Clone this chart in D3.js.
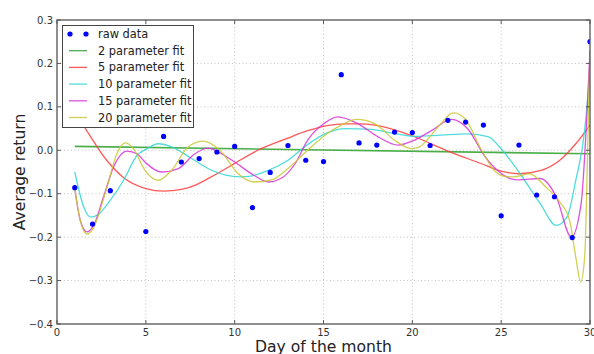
<!DOCTYPE html>
<html>
<head>
<meta charset="utf-8">
<script src="https://cdn.jsdelivr.net/npm/d3@7"></script>
<style>
  body { margin: 0; background: #fff; }
  svg { display: block; font-family: "DejaVu Sans", sans-serif; }
</style>
</head>
<body>
<svg id="chart" width="594" height="354"></svg>
<script>
// raw points (day 4 is not visible in the picture)
const rawDays = [1, 2, 3, 5, 6, 7, 8, 9, 10, 11, 12, 13, 14, 15, 16, 17, 18, 19, 20, 21, 22, 23, 24, 25, 26, 27, 28, 29, 30]
const rawReturns = [-0.086, -0.170, -0.093, -0.187, 0.032, -0.027, -0.019, -0.004, 0.009, -0.132, -0.051, 0.011, -0.023, -0.026,
  0.174, 0.017, 0.012, 0.042, 0.041, 0.011, 0.069, 0.065, 0.058, -0.151, 0.012, -0.103, -0.107, -0.201, 0.250]

// fit curves, [day, value]
const fit2 = [[1, 0.009], [30, -0.008]]
const fit5 = [[1, 0.088], [1.6, 0.050], [2.8, -0.023], [3.75, -0.063], [5, -0.088], [6, -0.094], [7, -0.090], [7.8, -0.080],
  [8.6, -0.063], [9.3, -0.047], [10, -0.030], [11.3, 0.000], [13, 0.028], [14.1, 0.045], [15.2, 0.057], [16.2, 0.061],
  [17, 0.061], [17.9, 0.058], [19.4, 0.042], [20.2, 0.030], [22, -0.002], [23.9, -0.031], [25, -0.048], [26, -0.054],
  [27.2, -0.047], [28.3, -0.023], [29.2, 0.015], [30, 0.058]]
const fit10 = [[1, -0.050], [1.5, -0.130], [1.9, -0.154], [2.25, -0.150], [3, -0.115], [3.75, -0.069], [4.5, -0.012],
  [5, 0.002], [5.7, 0.015], [6.45, 0.008], [7.58, -0.019], [8.7, -0.046], [9.5, -0.057], [10.3, -0.061], [10.8, -0.060],
  [11.9, -0.046], [13, -0.023], [14.1, 0.013], [15.2, 0.040], [16.2, 0.050], [17.7, 0.048], [18.8, 0.040], [20.2, 0.032],
  [21.6, 0.035], [23.1, 0.038], [24.3, 0.031], [24.9, 0.008], [25.5, -0.022], [26, -0.050], [27.2, -0.123], [28.1, -0.173],
  [28.7, -0.154], [29.2, -0.069], [29.7, 0.046], [29.95, 0.161], [30, 0.19]]
const fit15 = [[1, -0.088], [1.31, -0.161], [1.69, -0.188], [2.06, -0.173], [2.62, -0.107], [3.19, -0.038], [3.94, -0.002],
  [4.5, -0.008], [4.95, -0.027], [5.89, -0.050], [6.83, -0.042], [7.76, -0.008], [8.51, 0.005], [9.26, -0.008], [10, -0.027],
  [11.1, -0.058], [11.9, -0.073], [12.6, -0.065], [13.4, -0.031], [14.1, 0.023], [15.07, 0.063], [15.8, 0.077], [16.95, 0.061],
  [18.07, 0.031], [19.2, 0.012], [20.1, 0.023], [21.1, 0.046], [22.2, 0.071], [23.1, 0.050], [24.1, -0.015], [24.9, -0.050],
  [25.5, -0.065], [26, -0.068], [27.2, -0.065], [28.1, -0.107], [28.95, -0.200], [29.5, -0.123], [29.83, 0.085], [30, 0.23]]
const fit20 = [[1, -0.088], [1.3, -0.160], [1.69, -0.193], [2.06, -0.178], [2.81, -0.085], [3.37, -0.008], [3.84, 0.017],
  [4.3, 0.004], [4.95, -0.046], [5.7, -0.069], [6.45, -0.046], [7.39, 0.008], [8.23, 0.021], [9.26, -0.004], [10.1, -0.050],
  [11.1, -0.073], [12.1, -0.068], [13, -0.042], [14.1, 0.000], [15.2, 0.038], [16, 0.058], [16.86, 0.071], [17.9, 0.061],
  [19, 0.023], [19.95, 0.004], [20.4, 0.008], [20.9, 0.027], [21.6, 0.061], [22.3, 0.086], [22.95, 0.073], [23.9, 0.000],
  [24.6, -0.046], [25.2, -0.060], [25.7, -0.061], [26.6, -0.054], [27.5, -0.084], [28.3, -0.119], [28.85, -0.161],
  [29.2, -0.246], [29.47, -0.303], [29.7, -0.246], [29.85, -0.031], [29.95, 0.154], [30, 0.22]]

const xTicks = [0, 5, 10, 15, 20, 25, 30]
const yTicks = [0.3, 0.2, 0.1, 0.0, -0.1, -0.2, -0.3, -0.4]
const seriesNames = ["2 parameter fit", "5 parameter fit", "10 parameter fit", "15 parameter fit", "20 parameter fit"]
const seriesColors = ["#2ca02c", "#ff3b3b", "#33d6d6", "#d633d6", "#c8c832"]

const svg = d3.select("#chart")
const mLeft = 57, mRight = 590, mTop = 20, mBottom = 324

const x = d3.scaleLinear().domain([0, 30]).range([mLeft, mRight])
const y = d3.scaleLinear().domain([-0.4, 0.3]).range([mBottom, mTop])

svg.append("defs").append("clipPath").attr("id", "plotclip")
  .append("rect").attr("x", mLeft).attr("y", mTop).attr("width", mRight - mLeft).attr("height", mBottom - mTop)

// grid
const grid = svg.append("g").attr("stroke", "#b5b5b5").attr("stroke-width", 0.8).attr("stroke-dasharray", "1,2.5")
grid.selectAll(".gx").data(xTicks.slice(1, -1)).join("line")
  .attr("x1", d => x(d)).attr("x2", d => x(d)).attr("y1", mTop).attr("y2", mBottom)
grid.selectAll(".gy").data(yTicks.slice(1, -1)).join("line")
  .attr("y1", d => y(d)).attr("y2", d => y(d)).attr("x1", mLeft).attr("x2", mRight)

const plot = svg.append("g").attr("clip-path", "url(#plotclip)")

const line = d3.line().x(d => x(d[0])).y(d => y(d[1])).curve(d3.curveMonotoneX)
const fits = [fit2, fit5, fit10, fit15, fit20]

plot.selectAll(".fit").data(fits).join("path")
  .attr("fill", "none")
  .attr("stroke", (d, i) => seriesColors[i])
  .attr("stroke-opacity", 0.85)
  .attr("stroke-width", (d, i) => i == 0 ? 1.6 : 1.3)
  .attr("d", line)

plot.selectAll(".pt").data(rawDays).join("circle")
  .attr("cx", d => x(d))
  .attr("cy", (d, i) => y(rawReturns[i]))
  .attr("r", 2.6)
  .attr("fill", "#0000ff")

// ticks on all sides, pointing inward
const ticks = svg.append("g").attr("stroke", "#333").attr("stroke-width", 0.8)
xTicks.forEach(t => {
  ticks.append("line").attr("x1", x(t)).attr("x2", x(t)).attr("y1", mBottom).attr("y2", mBottom - 4)
  ticks.append("line").attr("x1", x(t)).attr("x2", x(t)).attr("y1", mTop).attr("y2", mTop + 4)
})
yTicks.forEach(t => {
  ticks.append("line").attr("y1", y(t)).attr("y2", y(t)).attr("x1", mLeft).attr("x2", mLeft + 4)
  ticks.append("line").attr("y1", y(t)).attr("y2", y(t)).attr("x1", mRight).attr("x2", mRight - 4)
})

svg.append("rect")
  .attr("x", mLeft).attr("y", mTop).attr("width", mRight - mLeft).attr("height", mBottom - mTop)
  .attr("fill", "none").attr("stroke", "#555").attr("stroke-width", 1.3)

svg.append("g").selectAll("text").data(xTicks).join("text")
  .attr("x", d => x(d)).attr("y", mBottom + 12)
  .attr("text-anchor", "middle")
  .attr("font-size", "10px").attr("fill", "#333")
  .text(d => d)

svg.append("g").selectAll("text").data(yTicks).join("text")
  .attr("x", mLeft - 4).attr("y", d => y(d) + 3.5)
  .attr("text-anchor", "end")
  .attr("font-size", "10px").attr("fill", "#333")
  .text(d => d3.format(".1f")(d).replace("-", "\u2212"))

svg.append("text")
  .attr("x", (mLeft + mRight) / 2).attr("y", 352)
  .attr("text-anchor", "middle").attr("font-size", "15.6px").attr("fill", "#222")
  .text("Day of the month")

svg.append("text")
  .attr("transform", `translate(25,${(mTop + mBottom) / 2}) rotate(-90)`)
  .attr("text-anchor", "middle").attr("font-size", "15.6px").attr("fill", "#222")
  .text("Average return")

// legend
const legend = svg.append("g")
legend.append("rect")
  .attr("x", 62.5).attr("y", 25.5).attr("width", 131).attr("height", 102)
  .attr("fill", "#fff").attr("stroke", "#444").attr("stroke-width", 1)

const rowY = i => 34 + i * 16.7
legend.selectAll(".dot").data([70, 86]).join("circle")
  .attr("cx", d => d).attr("cy", rowY(0)).attr("r", 2.6).attr("fill", "#0000ff")
legend.selectAll(".key").data(seriesNames).join("line")
  .attr("x1", 69).attr("x2", 87)
  .attr("y1", (d, i) => rowY(i + 1)).attr("y2", (d, i) => rowY(i + 1))
  .attr("stroke", (d, i) => seriesColors[i]).attr("stroke-opacity", 0.85).attr("stroke-width", 1.3)
legend.selectAll(".lab").data(["raw data"].concat(seriesNames)).join("text")
  .attr("x", 98).attr("y", (d, i) => rowY(i) + 4)
  .attr("font-size", "11.4px").attr("fill", "#222")
  .text(d => d)
</script>
</body>
</html>
